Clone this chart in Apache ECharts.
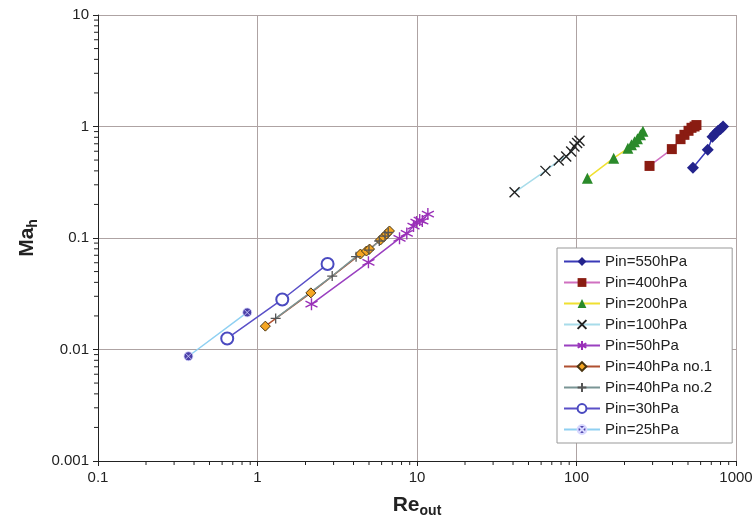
<!DOCTYPE html>
<html>
<head>
<meta charset="utf-8">
<script src="https://cdn.jsdelivr.net/npm/echarts@6/dist/echarts.min.js"></script>
<style>html,body{margin:0;padding:0;background:#fff}#c{width:756px;height:524px}</style>
</head>
<body>
<div id="c"></div>
<script>
// ---- data ----
const seriesNames = ['Pin=550hPa','Pin=400hPa','Pin=200hPa','Pin=100hPa','Pin=50hPa','Pin=40hPa no.1','Pin=40hPa no.2','Pin=30hPa','Pin=25hPa'];
const re550 = [537, 665, 712, 740, 770, 800, 830];
const ma550 = [0.426, 0.618, 0.81, 0.86, 0.91, 0.95, 1.0];
const re400 = [287, 396, 449, 475, 504, 526, 550, 565];
const ma400 = [0.443, 0.627, 0.77, 0.842, 0.915, 0.973, 1.0, 1.03];
const re200 = [117, 171, 210, 221, 231, 241, 252, 261];
const ma200 = [0.344, 0.52, 0.637, 0.685, 0.729, 0.776, 0.842, 0.906];
const re100 = [40.9, 63.9, 77.4, 86.2, 92.6, 97.1, 100.9, 104.4];
const ma100 = [0.257, 0.40, 0.495, 0.538, 0.596, 0.661, 0.71, 0.744];
const re50 = [2.18, 4.96, 7.77, 8.63, 9.51, 9.93, 10.4, 10.8, 11.7];
const ma50 = [0.0255, 0.0605, 0.0994, 0.110, 0.128, 0.139, 0.145, 0.142, 0.164];
const re40a = [1.12, 2.16, 4.42, 4.82, 5.04, 5.90, 6.17, 6.44, 6.72];
const ma40a = [0.0162, 0.0322, 0.0718, 0.0764, 0.0796, 0.0959, 0.102, 0.1086, 0.1156];
const re40b = [1.30, 2.94, 4.15, 5.0, 5.8, 6.3, 6.6];
const ma40b = [0.019, 0.0456, 0.068, 0.078, 0.094, 0.104, 0.112];
const re30 = [0.646, 1.43, 2.75];
const ma30 = [0.01256, 0.0281, 0.0584];
const re25 = [0.369, 0.862];
const ma25 = [0.0087, 0.0215];
const xTickLabels = ['0.1','1','10','100','1000'];
const yTickLabels = ['0.001','0.01','0.1','1','10'];
const xMinor = [0.2,0.3,0.4,0.5,0.6,0.7,0.8,0.9, 2,3,4,5,6,7,8,9, 20,30,40,50,60,70,80,90, 200,300,400,500,600,700,800,900];
const yMinor = [0.002,0.003,0.004,0.005,0.006,0.007,0.008,0.009, 0.02,0.03,0.04,0.05,0.06,0.07,0.08,0.09, 0.2,0.3,0.4,0.5,0.6,0.7,0.8,0.9, 2,3,4,5,6,7,8,9];

const xs = [re550, re400, re200, re100, re50, re40a, re40b, re30, re25];
const ys = [ma550, ma400, ma200, ma100, ma50, ma40a, ma40b, ma30, ma25];

const XMIN = 0.1, XMAX = 1000, YMIN = 0.001, YMAX = 10;

const styles = [
  {symbol:'diamond', size:12, item:{color:'#23238c'}, line:'#3a3ab8'},
  {symbol:'rect', size:10, item:{color:'#8a1c12'}, line:'#d070c0'},
  {symbol:'triangle', size:11, item:{color:'#2a8a2a'}, line:'#f0e030'},
  {symbol:'path://M0,0L10,10M10,0L0,10', size:10, item:{color:'none', borderColor:'#222', borderWidth:1.4}, line:'#a8dcea'},
  {symbol:'path://M5,0L5,10M0.7,2.5L9.3,7.5M9.3,2.5L0.7,7.5', size:12, item:{color:'none', borderColor:'#9a30b8', borderWidth:1.4}, line:'#9a40c0'},
  {symbol:'diamond', size:10, item:{color:'#f5a623', borderColor:'#4a3510', borderWidth:1}, line:'#b05030'},
  {symbol:'path://M5,0L5,10M0,5L10,5', size:10, item:{color:'none', borderColor:'#555', borderWidth:1.3}, line:'#7a9595'},
  {symbol:'emptyCircle', size:12, item:{color:'#4a4ac0', borderColor:'#4a4ac0', borderWidth:1.5}, line:'#5a50c8'},
  {symbol:'path://M5,0A5,5,0,1,1,4.99,0ZM1.8,1.8L8.2,8.2M8.2,1.8L1.8,8.2', size:9, item:{color:'#4a3fa8', borderColor:'#d8d8ff', borderWidth:0.8}, line:'#8fd0f2'}
];

const series = seriesNames.map((n, i) => ({
  name: n,
  type: 'line',
  data: xs[i].map((x, j) => [x, ys[i][j]]),
  symbol: styles[i].symbol,
  symbolSize: styles[i].size,
  showAllSymbol: true,
  itemStyle: styles[i].item,
  lineStyle: {color: styles[i].line, width: 1.5},
  emphasis: {disabled: true},
  animation: false,
  z: 3
}));

function tickSeries(vals, horizontal) {
  return {
    type: 'custom',
    silent: true,
    animation: false,
    clip: false,
    z: 5,
    data: vals.map(v => horizontal ? [v, YMIN] : [XMIN, v]),
    renderItem: function (params, api) {
      const p = api.coord([api.value(0), api.value(1)]);
      return {
        type: 'line',
        shape: horizontal ? {x1: p[0], y1: p[1], x2: p[0], y2: p[1] + 4}
                          : {x1: p[0] - 4, y1: p[1], x2: p[0], y2: p[1]},
        style: {stroke: '#222', lineWidth: 1}
      };
    }
  };
}
series.push(tickSeries(xMinor, true));
series.push(tickSeries(yMinor, false));

const fmt = (labels) => (v) => {
  const s = String(+(+v).toPrecision(3));
  return labels.indexOf(s) >= 0 ? s : '';
};

const chart = echarts.init(document.getElementById('c'), null, {renderer: 'canvas'});
chart.setOption({
  backgroundColor: '#ffffff',
  animation: false,
  textStyle: {fontFamily: 'Liberation Sans, Arial, sans-serif'},
  grid: {left: 98, right: 20, top: 15, bottom: 63, containLabel: false},
  xAxis: {
    type: 'log', logBase: 10, min: XMIN, max: XMAX,
    name: '{a|Re}{b|out}', nameLocation: 'middle', nameGap: 31,
    nameTextStyle: {rich: {a: {fontSize: 21, fontWeight: 'bold', color: '#222', fontFamily: 'Liberation Sans'}, b: {fontSize: 14, fontWeight: 'bold', color: '#222', verticalAlign: 'bottom', padding: [12, 0, 0, 0], fontFamily: 'Liberation Sans'}}},
    axisLine: {show: true, lineStyle: {color: '#222', width: 1}},
    axisTick: {show: true, length: 5, lineStyle: {color: '#222'}},
    axisLabel: {fontSize: 15, color: '#222', margin: 9, formatter: fmt(xTickLabels)},
    splitLine: {show: true, lineStyle: {color: '#aea3a3', width: 1}},
    minorTick: {show: false}
  },
  yAxis: {
    type: 'log', logBase: 10, min: YMIN, max: YMAX,
    name: '{a|Ma}{b|h}', nameLocation: 'middle', nameGap: 57, nameRotate: 90,
    nameTextStyle: {rich: {a: {fontSize: 21, fontWeight: 'bold', color: '#222', fontFamily: 'Liberation Sans'}, b: {fontSize: 14, fontWeight: 'bold', color: '#222', verticalAlign: 'bottom', padding: [12, 0, 0, 0], fontFamily: 'Liberation Sans'}}},
    axisLine: {show: true, lineStyle: {color: '#222', width: 1}},
    axisTick: {show: true, length: 5, lineStyle: {color: '#222'}},
    axisLabel: {fontSize: 15, color: '#222', margin: 9, formatter: fmt(yTickLabels)},
    splitLine: {show: true, lineStyle: {color: '#aea3a3', width: 1}},
    minorTick: {show: false}
  },
  legend: {
    data: seriesNames,
    orient: 'vertical',
    left: 557, top: 248,
    itemWidth: 36, itemHeight: 11, itemGap: 6.0,
    padding: [6, 20, 6, 6],
    backgroundColor: '#fff',
    borderColor: '#999', borderWidth: 1,
    textStyle: {fontSize: 15, color: '#222', fontFamily: 'Liberation Sans'},
    selectedMode: false
  },
  series: series
});
</script>
</body>
</html>
